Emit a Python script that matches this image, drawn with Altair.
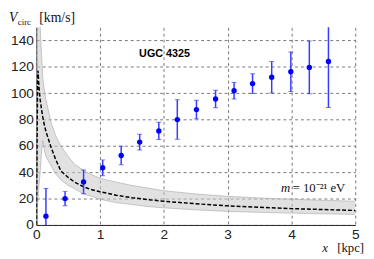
import altair as alt
import pandas as pd

# Observed rotation curve (UGC 4325)
obs_r = [0.15, 0.45, 0.74, 1.04, 1.33, 1.62, 1.92, 2.21, 2.51, 2.81, 3.10, 3.39, 3.69, 3.99, 4.28, 4.58]
obs_v = [6.7, 20.0, 32.7, 43.4, 52.7, 62.9, 71.4, 80.0, 87.6, 95.6, 101.9, 107.3, 112.1, 116.3, 119.6, 124.1]
obs_err = [21.0, 5.5, 9.0, 6.0, 7.0, 6.0, 6.5, 15.0, 7.0, 6.6, 6.2, 7.5, 12.0, 15.0, 20.0, 35.0]

# Model curve (dashed) and its uncertainty band
model_r = [0, 0.01, 0.02, 0.026, 0.04, 0.06, 0.08, 0.1, 0.12, 0.15, 0.23, 0.3, 0.385, 0.5, 0.6,
           0.74, 0.85, 1.0, 1.25, 1.5, 1.75, 2.0, 2.5, 3.0, 3.5, 4.0, 4.5, 5.0]
model_v = [0, 60, 110, 117, 105, 95, 88, 82, 77, 71, 59, 50, 41, 36, 32.5,
           29, 27, 25.2, 22.6, 20.7, 19.2, 18, 16.1, 14.5, 13.4, 12.4, 11.7, 11]
band_lo = [0, 8, 15, 20, 30, 40, 55, 64, 58, 52, 45, 39, 34, 30, 27.5,
           23.5, 22, 19.5, 17, 15.5, 14, 13, 11.5, 10.3, 9.6, 9, 8.5, 8]
band_hi = [0, 170, 200, 200, 180, 150, 130, 112, 104, 95, 78, 68, 60, 52, 46,
           41.5, 38.5, 35.5, 32.5, 30, 28, 26, 23.5, 21.7, 20.5, 19.5, 18.7, 18]

x_ticks = [0, 1, 2, 3, 4, 5]
y_ticks = [0, 20, 40, 60, 80, 100, 120, 140]

obs = pd.DataFrame({
    "r": obs_r, "v": obs_v,
    "lo": [v - e for v, e in zip(obs_v, obs_err)],
    "hi": [v + e for v, e in zip(obs_v, obs_err)],
})
model = pd.DataFrame({"r": model_r, "v": model_v, "lo": band_lo, "hi": band_hi})

xs = alt.Scale(domain=[0, 5], nice=False, zero=False)
ys = alt.Scale(domain=[0, 150], nice=False, zero=False)
xax = alt.Axis(values=x_ticks, title=None, grid=True, format="d",
               labelOverlap=False, labelFlush=False, labelBound=False)
yax = alt.Axis(values=y_ticks, title=None, grid=True, format="d",
               labelOverlap=False, labelFlush=False, labelBound=False)

X = alt.X("r:Q", scale=xs, axis=xax)


def Yf(field):
    return alt.Y(field + ":Q", scale=ys, axis=yax)


base_m = alt.Chart(model)
band = base_m.mark_area(clip=True, color="#c8c8c8", opacity=0.55).encode(
    x=X, y=Yf("lo"), y2="hi:Q")
band_top = base_m.mark_line(clip=True, color="#b0b0b0", strokeWidth=0.7).encode(
    x=X, y=Yf("hi"))
band_bot = base_m.mark_line(clip=True, color="#b0b0b0", strokeWidth=0.7).encode(
    x=X, y=Yf("lo"))
curve = base_m.mark_line(clip=True, color="black", strokeWidth=1.5, strokeDash=[4, 2]).encode(
    x=X, y=Yf("v"))

base_o = alt.Chart(obs)
bars = base_o.mark_rule(clip=True, color="#3a3aff", strokeWidth=1.5).encode(
    x=X, y=Yf("lo"), y2="hi:Q")
cap_lo = base_o.mark_tick(clip=True, color="#3a3aff", orient="horizontal", size=5, thickness=1).encode(
    x=X, y=Yf("lo"))
cap_hi = base_o.mark_tick(clip=True, color="#3a3aff", orient="horizontal", size=5, thickness=1).encode(
    x=X, y=Yf("hi"))
pts = base_o.mark_circle(clip=False, color="#0000ff", opacity=1, size=30).encode(
    x=X, y=Yf("v"))

one = pd.DataFrame({"k": [0]})


def label(txt, px, py, **kw):
    return alt.Chart(one).mark_text(text=txt, **kw).encode(x=alt.value(px), y=alt.value(py))


serif = "Liberation Serif"
t_name = label("UGC 4325", 131, 30, font="Liberation Sans", fontSize=11, fontWeight="bold",
               align="center", baseline="alphabetic", color="black")
t_V = label("V", -28, -5, font=serif, fontSize=14, fontStyle="italic", align="left",
            baseline="alphabetic", color="#111")
t_circ = label("circ", -19, -2, font=serif, fontSize=9, align="left", baseline="alphabetic", color="#111")
t_unit = label("[km/s]", 3, -5, font=serif, fontSize=14, align="left", baseline="alphabetic", color="#111")
t_x = label("x", 298, 230, font=serif, fontSize=13, fontStyle="italic", align="right",
            baseline="alphabetic", color="#111")
t_kpc = label("[kpc]", 335, 230, font=serif, fontSize=13, align="right", baseline="alphabetic", color="#111")
t_m = label("m", 250, 168, font=serif, fontSize=13, fontStyle="italic", align="left",
            baseline="alphabetic", color="#111")
t_mv = label("= 10⁻²¹ eV", 262, 168, font=serif, fontSize=13, align="left",
             baseline="alphabetic", color="#111")

chart = alt.layer(
    band, band_top, band_bot, curve, bars, cap_lo, cap_hi, pts,
    t_name, t_V, t_circ, t_unit, t_x, t_kpc, t_m, t_mv,
).properties(
    width=326, height=202,
    autosize=alt.AutoSizeParams(type="none"),
    padding={"left": 29, "top": 17, "right": 11, "bottom": 32},
).configure_view(stroke=None).configure_axis(
    domainColor="#222", domainWidth=1,
    ticks=False,
    labelFont="Liberation Sans", labelFontSize=14, labelColor="#222",
    gridColor="#555", gridDash=[3, 3], gridWidth=0.8, gridOpacity=1,
).configure_axisX(labelPadding=3).configure_axisY(labelPadding=3)

chart.save("out.html", embed_options={"renderer": "svg", "actions": False})
